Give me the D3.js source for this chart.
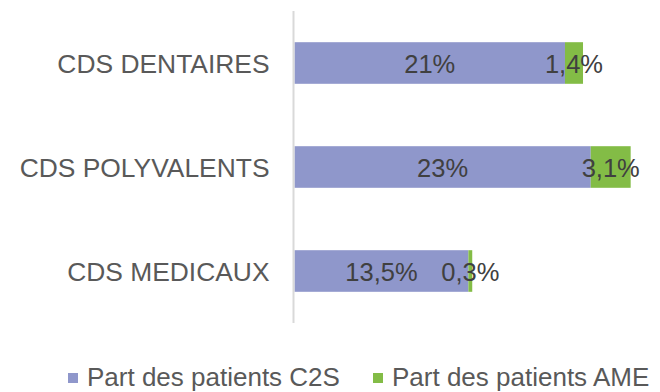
<!DOCTYPE html>
<html>
<head>
<meta charset="utf-8">
<script src="https://cdn.jsdelivr.net/npm/d3@7"></script>
<style>
  html, body { margin: 0; padding: 0; background: #fff; }
  svg { display: block; font-family: "Liberation Sans", Arial, sans-serif; }
</style>
</head>
<body>
<svg id="chart" width="660" height="392"></svg>
<script>
// Categories (top to bottom) and shares per series, in percent
const categories = ["CDS DENTAIRES", "CDS POLYVALENTS", "CDS MEDICAUX"];
const c2s = [21, 23, 13.5];
const ame = [1.4, 3.1, 0.3];
const seriesNames = ["Part des patients C2S", "Part des patients AME"];
const seriesColors = ["#8f97cb", "#83bc46"];

const svg = d3.select("#chart");
const fmt = v => String(v).replace(".", ",") + "%";

const x = d3.scaleLinear().domain([0, 25]).range([293.5, 615.5]);
const y = d3.scaleBand().domain(categories).range([11, 323])
  .paddingInner(0.6).paddingOuter(0.3);

const rows = categories.map((c, i) => ({ cat: c, vals: [c2s[i], ame[i]] }));
const segs = [];
rows.forEach(r => {
  let acc = 0;
  r.vals.forEach((v, s) => {
    segs.push({ cat: r.cat, s, v, x0: acc, x1: acc + v });
    acc += v;
  });
});

// Stacked bar segments
svg.append("g").selectAll("rect").data(segs).join("rect")
  .attr("x", d => x(d.x0) + 1)
  .attr("y", d => y(d.cat))
  .attr("width", d => x(d.x1) - x(d.x0))
  .attr("height", y.bandwidth())
  .attr("fill", d => seriesColors[d.s]);

// Vertical category axis line
svg.append("line")
  .attr("x1", x(0)).attr("x2", x(0))
  .attr("y1", y.range()[0]).attr("y2", y.range()[1])
  .attr("stroke", "#d9d9d9").attr("stroke-width", 2);

// Category labels
const fs = 26;
const catFs = 26.4;
svg.append("g").selectAll("text").data(categories).join("text")
  .attr("x", x(0) - 24)
  .attr("y", d => y(d) + y.bandwidth() / 2 + catFs * 0.36)
  .attr("text-anchor", "end")
  .attr("font-size", catFs)
  .attr("fill", "#595959")
  .text(d => d);

// Value labels centred in each segment
svg.append("g").selectAll("text").data(segs).join("text")
  .attr("x", d => (x(d.x0) + x(d.x1)) / 2 + 1)
  .attr("y", d => y(d.cat) + y.bandwidth() / 2 + fs * 0.37)
  .attr("text-anchor", "middle")
  .attr("font-size", 25.5)
  .attr("fill", "#404040")
  .text(d => fmt(d.v));

// Legend
const legendX = [68, 373];
const lg = svg.append("g").selectAll("g").data(seriesNames).join("g")
  .attr("transform", (d, i) => `translate(${legendX[i]},373)`);
lg.append("rect").attr("width", 10).attr("height", 10)
  .attr("fill", (d, i) => seriesColors[i]);
lg.append("text").attr("x", 19).attr("y", 13)
  .attr("font-size", fs).attr("fill", "#595959")
  .text(d => d);
</script>
</body>
</html>
